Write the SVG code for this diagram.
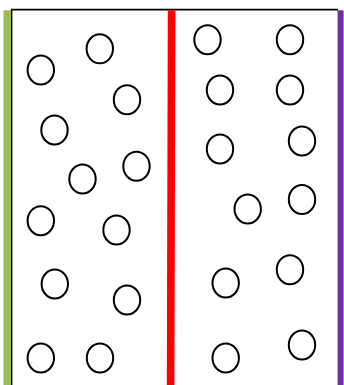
<svg xmlns="http://www.w3.org/2000/svg" width="344" height="385" viewBox="0 0 344 385">
<style>
.p{fill:none;stroke:#000;stroke-width:2}
</style>
<rect width="344" height="385" fill="#fff"/>
<g id="walls">
<line x1="11" y1="9.6" x2="338" y2="9.6" stroke="#000" stroke-width="1.8"/>
<rect x="3.5" y="10.3" width="7.6" height="375" fill="#9BBB59"/>
<line x1="11.7" y1="10" x2="11.7" y2="385" stroke="#000" stroke-width="1.4"/>
<line x1="171.6" y1="10.3" x2="170.6" y2="385" stroke="#FF0000" stroke-width="7.6"/>
<rect x="337.6" y="10.3" width="6" height="375" fill="#7030A0"/>
</g>
<g id="particles-left">
<ellipse class="p" cx="40.8" cy="70" rx="13.2" ry="14.5"/>
<ellipse class="p" cx="99.8" cy="48.8" rx="13.2" ry="14.5"/>
<ellipse class="p" cx="127" cy="99.7" rx="13.2" ry="14.5"/>
<ellipse class="p" cx="54.5" cy="130" rx="13.2" ry="14.5"/>
<ellipse class="p" cx="136.5" cy="166.2" rx="13.2" ry="14.5"/>
<ellipse class="p" cx="82.5" cy="179" rx="13.2" ry="14.5"/>
<ellipse class="p" cx="40.8" cy="220.7" rx="13.2" ry="14.5"/>
<ellipse class="p" cx="116.5" cy="230" rx="13.2" ry="14.5"/>
<ellipse class="p" cx="54.8" cy="284" rx="13.2" ry="14.5"/>
<ellipse class="p" cx="127" cy="300" rx="13.2" ry="14.5"/>
<ellipse class="p" cx="40.8" cy="358" rx="13.2" ry="14.5"/>
<ellipse class="p" cx="100" cy="358" rx="13.2" ry="14.5"/>
</g>
<g id="particles-right">
<ellipse class="p" cx="207.5" cy="39.7" rx="13.2" ry="14.5"/>
<ellipse class="p" cx="290" cy="39.7" rx="13.2" ry="14.5"/>
<ellipse class="p" cx="220" cy="90" rx="13.2" ry="14.5"/>
<ellipse class="p" cx="290" cy="90" rx="13.2" ry="14.5"/>
<ellipse class="p" cx="220" cy="149" rx="13.2" ry="14.5"/>
<ellipse class="p" cx="302" cy="141" rx="13.2" ry="14.5"/>
<ellipse class="p" cx="302" cy="199.5" rx="13.2" ry="14.5"/>
<ellipse class="p" cx="247.7" cy="209" rx="13.2" ry="14.5"/>
<ellipse class="p" cx="290" cy="269.7" rx="13.2" ry="14.5"/>
<ellipse class="p" cx="225.7" cy="283" rx="13.2" ry="14.5"/>
<ellipse class="p" cx="302" cy="345" rx="13.2" ry="14.5"/>
<ellipse class="p" cx="225.7" cy="358" rx="13.2" ry="14.5"/>
</g>
</svg>
